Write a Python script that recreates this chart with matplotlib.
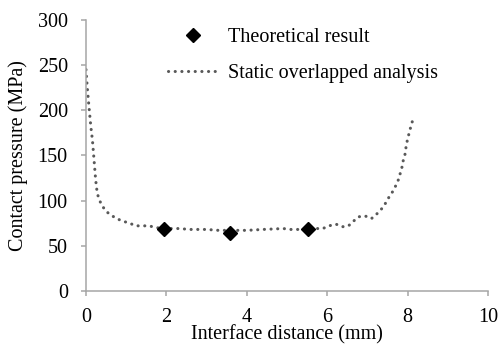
import matplotlib
matplotlib.use("Agg")
import matplotlib.pyplot as plt

plt.rcParams['font.family'] = ['Liberation Serif', 'DejaVu Serif']
plt.rcParams['lines.scale_dashes'] = False

# Static overlapped analysis curve
dist_fea = [0, 0.03, 0.07, 0.12, 0.16, 0.2, 0.24, 0.28, 0.33, 0.39, 0.5, 0.62,
            0.76, 0.93, 1.08, 1.24, 1.4, 1.57, 1.74, 2.0, 2.3, 2.6, 3.0, 3.3,
            3.6, 4.0, 4.4, 4.91, 5.07, 5.24, 5.4, 5.72, 5.89, 6.05, 6.21, 6.38,
            6.53, 6.65, 6.78, 6.94, 7.1, 7.23, 7.34, 7.45, 7.54, 7.63, 7.7,
            7.77, 7.81, 7.86, 7.89, 7.94, 7.96, 7.99, 8.05, 8.12]
press_fea = [245, 226, 206, 182, 167, 145, 123, 108, 101, 95, 88, 84, 80, 77,
             75, 72, 72, 72, 70, 69, 69, 68, 68, 67, 67, 67, 68, 69, 68, 68, 68,
             69, 69, 72, 74, 71, 72, 77, 82, 83, 80, 85, 90, 97, 104, 110, 116,
             123, 129, 137, 144, 152, 159, 166, 177, 188]

# Theoretical result
dist_theory = [1.93, 3.57, 5.53]
press_theory = [68, 64, 69]

fs = 14.5
fig = plt.figure(figsize=(5, 3.45), dpi=100)
ax = fig.add_axes([0.172, 0.157, 0.804, 0.785])

ax.plot(dist_theory, press_theory, linestyle='none', marker='D', color='black',
        markersize=7, label='Theoretical result', zorder=3)
ax.plot(dist_fea, press_fea, color='#595959', linewidth=2.2,
        dashes=(0.1, 4.7), dash_capstyle='round',
        label='Static overlapped analysis', zorder=2)

ax.set_xlim(0, 10)
ax.set_ylim(0, 300)
ax.set_xticks(range(0, 11, 2))
ax.set_yticks(range(0, 301, 50))

for side in ['top', 'right']:
    ax.spines[side].set_visible(False)
for side in ['left', 'bottom']:
    ax.spines[side].set_color('#a6a6a6')
    ax.spines[side].set_linewidth(1.1)
ax.tick_params(axis='both', colors='#a6a6a6', labelcolor='black',
               length=3.6, width=1.1, labelsize=fs, direction='out')
ax.tick_params(axis='x', pad=9)
ax.tick_params(axis='y', pad=9.5)

ax.set_xlabel('Interface distance (mm)', fontsize=fs, labelpad=-1.5)
ax.set_ylabel('Contact pressure (MPa)', fontsize=fs)
ax.yaxis.set_label_coords(-0.144, 0.5)

ax.legend(loc='upper left', bbox_to_anchor=(0.204, 0.97), frameon=False,
          fontsize=fs, labelspacing=0.85, handlelength=2.5, handletextpad=0.5,
          borderpad=0, borderaxespad=0)

fig.savefig('out.png', dpi=100)
